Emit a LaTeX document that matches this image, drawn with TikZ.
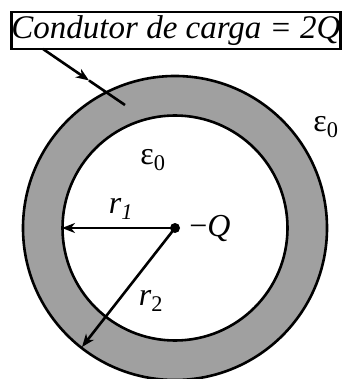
\documentclass[tikz,border=0pt]{standalone}
\usepackage{fontspec}
\setmainfont{Liberation Serif}
\usetikzlibrary{arrows.meta}
\definecolor{ringgray}{RGB}{160,160,160}
\begin{document}
\begin{tikzpicture}[x=1pt,y=-1pt,
  line width=2.6pt,
  arr/.style={-{Stealth[length=13pt,width=10pt,inset=4pt]}},
  lab/.style={font=\fontsize{32}{34}\selectfont, inner sep=0pt}]
\useasboundingbox (0,0) rectangle (342,379);
% ring
\fill[ringgray] (175,228) circle[radius=152];
\fill[white] (175,228) circle[radius=112.5];
\draw (175,228) circle[radius=152];
\draw (175,228) circle[radius=112.5];
% label box
\node[draw, line width=2.2pt, inner sep=0pt, minimum width=328pt, minimum height=37pt,
      font=\fontsize{33}{34}\selectfont\itshape] (lbl) at (176,30.5) {Condutor de carga = 2\textit{Q}};
\coordinate (ls) at (43,49);
\coordinate (lm) at (89,80.5);
\coordinate (le) at (125,105);
\draw[arr] (ls) -- (lm);
\draw (lm) -- (le);
% centre charge
\node[circle, fill, inner sep=0pt, minimum size=10pt] (c) at (175,228) {};
\coordinate (p1) at (62,228);
\coordinate (p2) at (82,347);
\draw[arr] (c.center) -- (p1);
\draw[arr] (c.center) -- (p2);
% labels
\node[lab] (e1) at (153,160) {ε\textsubscript{0}};
\node[lab] (e2) at (326,127) {ε\textsubscript{0}};
\node[lab] (r1) at (121,209) {\textit{r}\textsubscript{\textit{1}}};
\node[lab] (r2) at (151,301) {\textit{r}\textsubscript{2}};
\node[lab] (q) at (210,228) {−\textit{Q}};
\end{tikzpicture}
\end{document}
